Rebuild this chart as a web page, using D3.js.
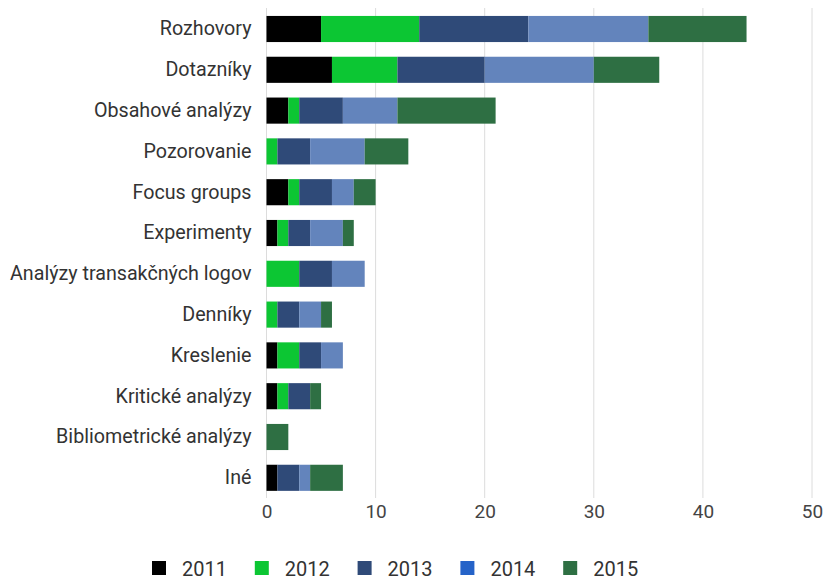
<!DOCTYPE html>
<html><head><meta charset="utf-8">
<script src="https://cdn.jsdelivr.net/npm/d3@7"></script>
<style>body{margin:0;background:#fff}svg{display:block}</style>
</head><body><svg id="c" width="825" height="579"></svg>
<script>
const categories = ["Rozhovory","Dotazníky","Obsahové analýzy","Pozorovanie","Focus groups","Experimenty","Analýzy transakčných logov","Denníky","Kreslenie","Kritické analýzy","Bibliometrické analýzy","Iné"];
const seriesNames = ["2011","2012","2013","2014","2015"];
const s2011 = [5,6,2,0,2,1,0,0,1,1,0,1];
const s2012 = [9,6,1,1,1,1,3,1,2,1,0,0];
const s2013 = [10,8,4,3,3,2,3,2,2,2,0,2];
const s2014 = [11,10,5,5,2,3,3,2,2,0,0,1];
const s2015 = [9,6,9,4,2,1,0,1,0,1,2,3];
const xTicks = [0,10,20,30,40,50];
const barColors = ["#000000","#0cc633","#2f4a78","#6384bc","#2e6f43"];
const legendColors = ["#000000","#0cc633","#2f4a78","#2563c8","#2e6f43"];

const seriesVals = [s2011,s2012,s2013,s2014,s2015];
const rows = categories.map((c,i)=>{const o={cat:c};seriesNames.forEach((s,j)=>o[s]=seriesVals[j][i]);return o;});
const stacked = d3.stack().keys(seriesNames)(rows);

const svg = d3.select("#c");
const x = d3.scaleLinear().domain([0,50]).range([266.5,812]);
const y = d3.scaleBand().domain(categories).range([8.6,498.2]).paddingInner(0.36).paddingOuter(0.18);

// grid
svg.append("g").selectAll("line").data(xTicks).join("line")
  .attr("x1",d=>x(d)).attr("x2",d=>x(d)).attr("y1",8).attr("y2",498)
  .attr("stroke","#dcdcdc").attr("stroke-width",1);

// bars
svg.append("g").selectAll("g").data(stacked).join("g")
  .attr("fill",(d,i)=>barColors[i])
  .selectAll("rect").data(d=>d).join("rect")
  .attr("x",d=>x(d[0])).attr("width",d=>x(d[1])-x(d[0]))
  .attr("y",d=>y(d.data.cat)).attr("height",y.bandwidth());

// y labels
const yAxis = d3.axisLeft(y).tickSize(0).tickPadding(15);
const gy = svg.append("g").attr("transform",`translate(${x(0)},0)`).call(yAxis);
gy.select(".domain").remove();
gy.selectAll("text").attr("font-family","Roboto").attr("font-size",19.7).attr("fill","#333");

// x labels
const xAxis = d3.axisBottom(x).tickValues(xTicks).tickSize(0).tickPadding(4);
const gx = svg.append("g").attr("transform","translate(0,500)").call(xAxis);
gx.select(".domain").remove();
gx.selectAll("text").attr("font-family","Roboto").attr("font-size",19).attr("fill","#444");

// legend
const lg = svg.append("g").selectAll("g").data(seriesNames).join("g")
  .attr("transform",(d,i)=>`translate(${152+i*102.8},561)`);
lg.append("rect").attr("width",14).attr("height",14).attr("fill",(d,i)=>legendColors[i]);
lg.append("text").attr("x",30).attr("y",14.5)
  .attr("font-family","Roboto").attr("font-size",20).attr("fill","#333").text(d=>d);
</script></body></html>
